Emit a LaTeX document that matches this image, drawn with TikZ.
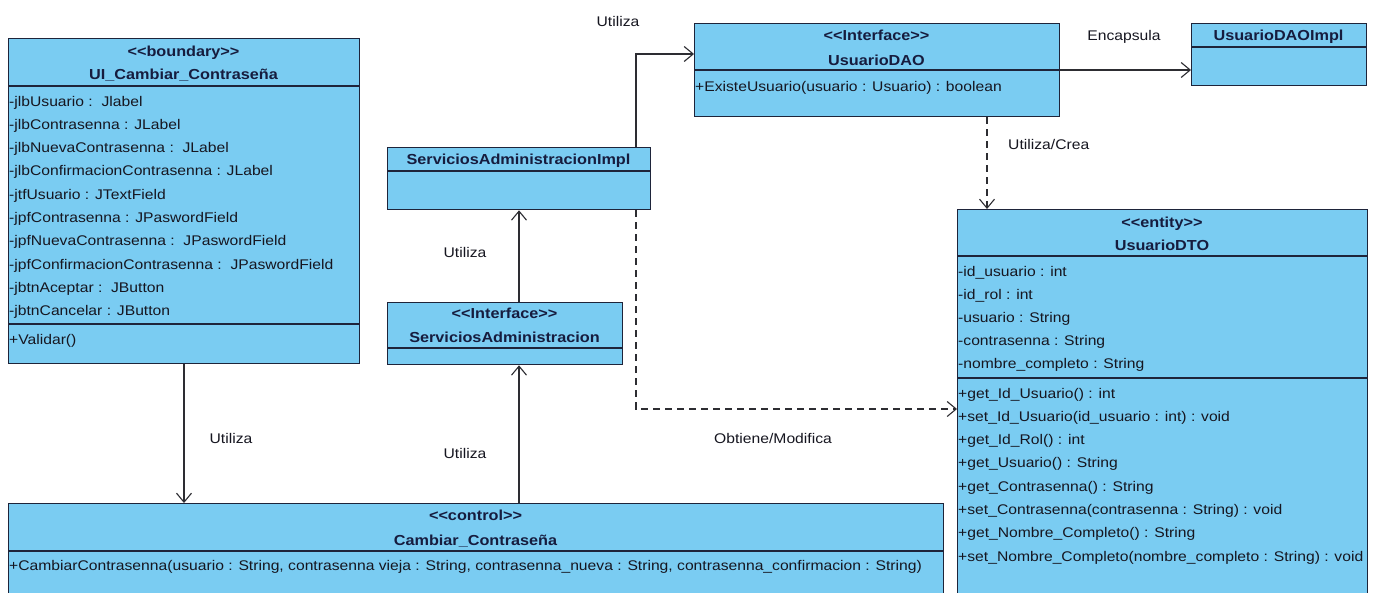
\documentclass[tikz,border=0pt]{standalone}
\usepackage{fontspec}
\setmainfont{Liberation Sans}[FakeStretch=1.12]
\usetikzlibrary{arrows.meta}
\definecolor{cfill}{RGB}{122,204,242}
\definecolor{cline}{RGB}{30,36,58}
\definecolor{chead}{RGB}{22,28,62}
\definecolor{ctext}{RGB}{22,22,32}
\definecolor{cconn}{RGB}{45,45,50}
\newcommand{\stereo}[1]{<\kern0pt<#1>\kern0pt>}
\tikzset{
  classbox/.style={draw=cline, fill=cfill, line width=1.3pt, anchor=north west, inner sep=0pt},
  divider/.style={draw=cline, line width=1.3pt},
  attr/.style={anchor=base west, inner sep=0pt, text=ctext, font=\fontsize{14}{16}\selectfont},
  head/.style={anchor=base, inner sep=0pt, text=chead, font=\fontsize{14.5}{16}\selectfont\bfseries},
  lbl/.style={anchor=base, inner sep=0pt, text=ctext, font=\fontsize{14}{16}\selectfont},
  conn/.style={draw=cconn, line width=1.1pt, -{Straight Barb[length=9pt,width=15pt,line width=1.1pt]}},
  dconn/.style={conn, dash pattern=on 7pt off 5pt},
}
\begin{document}
\begin{tikzpicture}[x=1pt,y=-1pt]
\useasboundingbox[fill=white] (0,0) rectangle (1376,592);
\clip (0,0) rectangle (1376,592);

% ---------- UI_Cambiar_Contraseña ----------
\node[classbox, minimum width=351pt, minimum height=325pt] (ui) at (8,38) {};
\draw[divider] (8,86) -- (359,86);
\draw[divider] (8,324) -- (359,324);
\node[head] (ui-st) at (183.5,56) {\stereo{boundary}};
\node[head] (ui-nm) at (183.5,79) {UI\_Cambiar\_Contraseña};
\foreach \t [count=\i from 0] in {
  {-jlbUsuario :\ \ Jlabel},
  {-jlbContrasenna : JLabel},
  {-jlbNuevaContrasenna :\ \ JLabel},
  {-jlbConfirmacionContrasenna : JLabel},
  {-jtfUsuario : JTextField},
  {-jpfContrasenna : JPaswordField},
  {-jpfNuevaContrasenna :\ \ JPaswordField},
  {-jpfConfirmacionContrasenna :\ \ JPaswordField},
  {-jbtnAceptar :\ \ JButton},
  {-jbtnCancelar : JButton}}
  \node[attr] (ui-a\i) at (9,106+23.3*\i) {\t};
\node[attr] (ui-m0) at (9,344) {+Validar()};

% ---------- ServiciosAdministracionImpl ----------
\node[classbox, minimum width=263pt, minimum height=62pt] (sai) at (387,147) {};
\draw[divider] (387,171) -- (650,171);
\node[head] (sai-nm) at (518.5,164) {ServiciosAdministracionImpl};

% ---------- ServiciosAdministracion ----------
\node[classbox, minimum width=235pt, minimum height=62pt] (sa) at (387,302) {};
\draw[divider] (387,348) -- (622,348);
\node[head] (sa-st) at (504.5,318) {\stereo{Interface}};
\node[head] (sa-nm) at (504.5,342) {ServiciosAdministracion};

% ---------- UsuarioDAO ----------
\node[classbox, minimum width=365pt, minimum height=93pt] (dao) at (694,23) {};
\draw[divider] (694,70) -- (1059,70);
\node[head] (dao-st) at (876.5,40) {\stereo{Interface}};
\node[head] (dao-nm) at (876.5,65) {UsuarioDAO};
\node[attr] (dao-m0) at (695,91) {+ExisteUsuario(usuario : Usuario) : boolean};

% ---------- UsuarioDAOImpl ----------
\node[classbox, minimum width=175pt, minimum height=62pt] (daoi) at (1191,23) {};
\draw[divider] (1191,47) -- (1366,47);
\node[head] (daoi-nm) at (1278.5,40) {UsuarioDAOImpl};

% ---------- UsuarioDTO ----------
\node[classbox, minimum width=410pt, minimum height=390pt] (dto) at (957,209) {};
\draw[divider] (957,256) -- (1367,256);
\draw[divider] (957,378) -- (1367,378);
\node[head] (dto-st) at (1162,227) {\stereo{entity}};
\node[head] (dto-nm) at (1162,250) {UsuarioDTO};
\foreach \t [count=\i from 0] in {
  {-id\_usuario : int},
  {-id\_rol : int},
  {-usuario : String},
  {-contrasenna : String},
  {-nombre\_completo : String}}
  \node[attr] (dto-a\i) at (958,276+23.2*\i) {\t};
\foreach \t [count=\i from 0] in {
  {+get\_Id\_Usuario() : int},
  {+set\_Id\_Usuario(id\_usuario : int) : void},
  {+get\_Id\_Rol() : int},
  {+get\_Usuario() : String},
  {+get\_Contrasenna() : String},
  {+set\_Contrasenna(contrasenna : String) : void},
  {+get\_Nombre\_Completo() : String},
  {+set\_Nombre\_Completo(nombre\_completo : String) : void}}
  \node[attr] (dto-m\i) at (958,398+23.3*\i) {\t};

% ---------- Cambiar_Contraseña ----------
\node[classbox, minimum width=935pt, minimum height=95pt] (cam) at (8,503) {};
\draw[divider] (8,551) -- (943,551);
\node[head] (cam-st) at (475.5,520) {\stereo{control}};
\node[head] (cam-nm) at (475.5,545) {Cambiar\_Contraseña};
\node[attr] (cam-m0) at (9,570) {+CambiarContrasenna(usuario : String, contrasenna vieja : String, contrasenna\_nueva : String, contrasenna\_confirmacion : String)};

% ---------- connectors ----------
\coordinate (x184) at (184,0);
\coordinate (x519) at (519,0);
\coordinate (x636) at (636,0);
\coordinate (x987) at (987,0);
\coordinate (y54) at (0,54);
\coordinate (y70) at (0,70);
\coordinate (y409) at (0,409);

\draw[conn] (ui.south -| x184) -- (cam.north -| x184);
\draw[conn] (cam.north -| x519) -- (sa.south -| x519);
\draw[conn] (sa.north -| x519) -- (sai.south -| x519);
\draw[conn] (sai.north -| x636) |- (dao.west |- y54);
\draw[dconn] (sai.south -| x636) |- (dto.west |- y409);
\draw[dconn] (dao.south -| x987) -- (dto.north -| x987);
\draw[conn] (dao.east |- y70) -- (daoi.west |- y70);

% ---------- labels ----------
\node[lbl] (l1) at (618,26) {Utiliza};
\node[lbl] (l2) at (1124,40) {Encapsula};
\node[lbl, anchor=base west] (l3) at (1008,149) {Utiliza/Crea};
\node[lbl] (l4) at (465,257) {Utiliza};
\node[lbl] (l5) at (231,443) {Utiliza};
\node[lbl] (l6) at (465,458) {Utiliza};
\node[lbl] (l7) at (773,443) {Obtiene/Modifica};
\end{tikzpicture}
\end{document}
